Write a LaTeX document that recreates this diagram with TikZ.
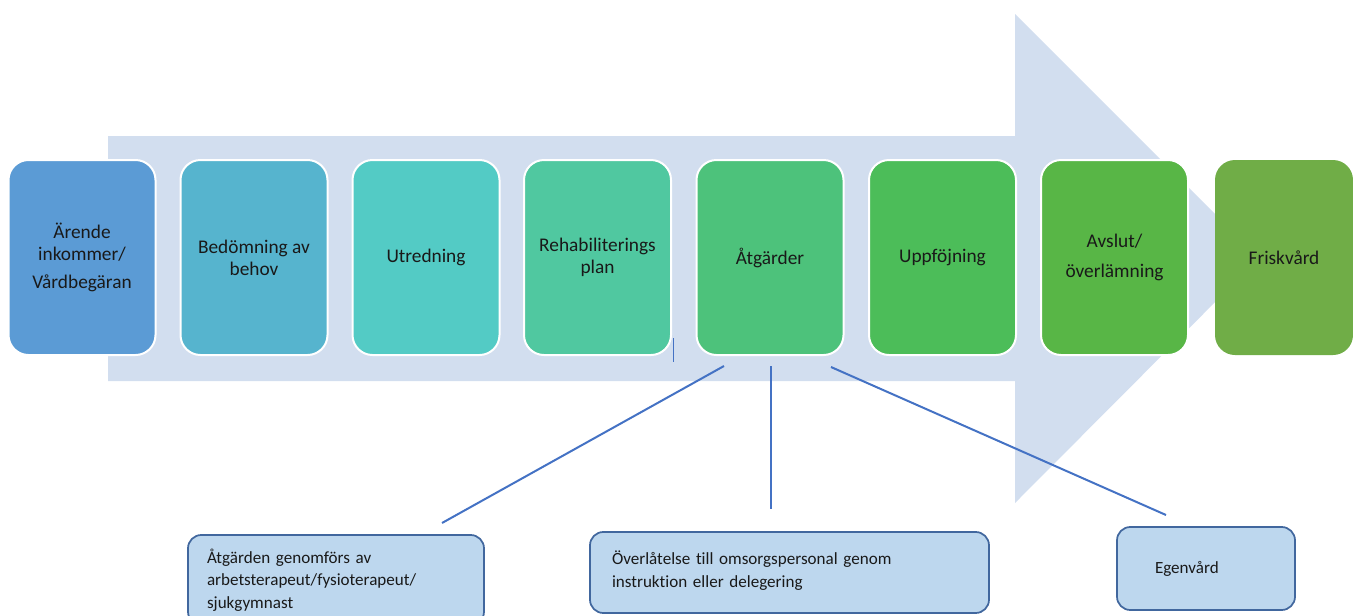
\documentclass[tikz,border=0pt]{standalone}
\usepackage{fontspec}
\setmainfont{Carlito}[Ligatures=NoCommon]
\usetikzlibrary{calc}
\begin{document}
\begin{tikzpicture}[x=0.75pt,y=-0.75pt,
  stage/.style={rounded corners=15pt, draw=white, line width=1.5pt, minimum width=110.25pt, minimum height=146.25pt, align=center, font=\fontsize{14.5}{16.5}\selectfont, text=black!90, inner sep=2pt},
  note/.style={rounded corners=10pt, draw=notedraw, line width=1.3pt, fill=notefill, align=left, font=\fontsize{12.8}{17}\selectfont, text=black!90, inner ysep=0pt},
  link/.style={draw=linkblue, line width=1.5pt}
]
\definecolor{arrowfill}{HTML}{D2DEEF}
\definecolor{notefill}{HTML}{BDD7EE}
\definecolor{notedraw}{HTML}{41679E}
\definecolor{linkblue}{HTML}{4472C4}
\definecolor{c1}{HTML}{5B9BD5}
\definecolor{c2}{HTML}{56B4CE}
\definecolor{c3}{HTML}{53CBC5}
\definecolor{c4}{HTML}{50C8A0}
\definecolor{c5}{HTML}{4DC27B}
\definecolor{c6}{HTML}{4CBD59}
\definecolor{c7}{HTML}{58B646}
\definecolor{c8}{HTML}{70AD47}
\useasboundingbox (0,0) rectangle (1353,615);
% big arrow
\fill[arrowfill] (108,136) -- (1015,136) -- (1015,14) -- (1259,258) -- (1015,503) -- (1015,381) -- (108,381) -- cycle;
% stages
\node[stage, fill=c1] (s1) at (82,257.5) {Ärende\\inkommer/\\[4pt]Vårdbegäran};
\node[stage, fill=c2] (s2) at (254,257.5) {Bedömning av\\behov};
\node[stage, fill=c3] (s3) at (426,257.5) {Utredning};
\node[stage, fill=c4] (s4) at (597.5,257.5) {Rehabiliterings\\plan};
\node[stage, fill=c5] (s5) at (770,257.5) {Åtgärder};
\node[stage, fill=c6] (s6) at (942.5,257.5) {Uppföjning};
\node[stage, fill=c7, font=\fontsize{14.5}{23}\selectfont] (s7) at (1114.5,257.5) {Avslut/\\överlämning};
\node[stage, fill=c8, draw=none, minimum width=103.5pt] (s8) at (1284,257.5) {Friskvård};
% stray mark
\draw[linkblue, line width=0.6pt] (s4.south east) ++(1,-18) coordinate (m1) -- ++(0,24) coordinate (m2);
% notes
\node[note, minimum width=222pt, minimum height=67.5pt, text width=193.5pt, inner xsep=14.25pt] (n1) at (336,580) {Åtgärden genomförs av\\arbetsterapeut/fysioterapeut/\\sjukgymnast};
\node[note, minimum width=299.25pt, minimum height=60.75pt, text width=266.25pt, inner xsep=16.5pt] (n2) at (789.5,572.5) {Överlåtelse till omsorgspersonal genom\\instruktion eller delegering\\[-12pt]\mbox{}};
\node[note, minimum width=133.5pt, minimum height=62.25pt, text width=76.5pt, inner xsep=28.5pt] (n3) at (1206,568.5) {Egenvård};
% connectors
\coordinate (e1) at (442,523);
\coordinate (e2) at (771,509);
\coordinate (e3) at (1166,515);
\draw[link] ($(s5.south)+(-46,10)$) -- (e1);
\draw[link] ($(s5.south)+(1,10)$) -- (e2);
\draw[link] ($(s5.south)+(61,11)$) -- (e3);
\end{tikzpicture}
\end{document}
